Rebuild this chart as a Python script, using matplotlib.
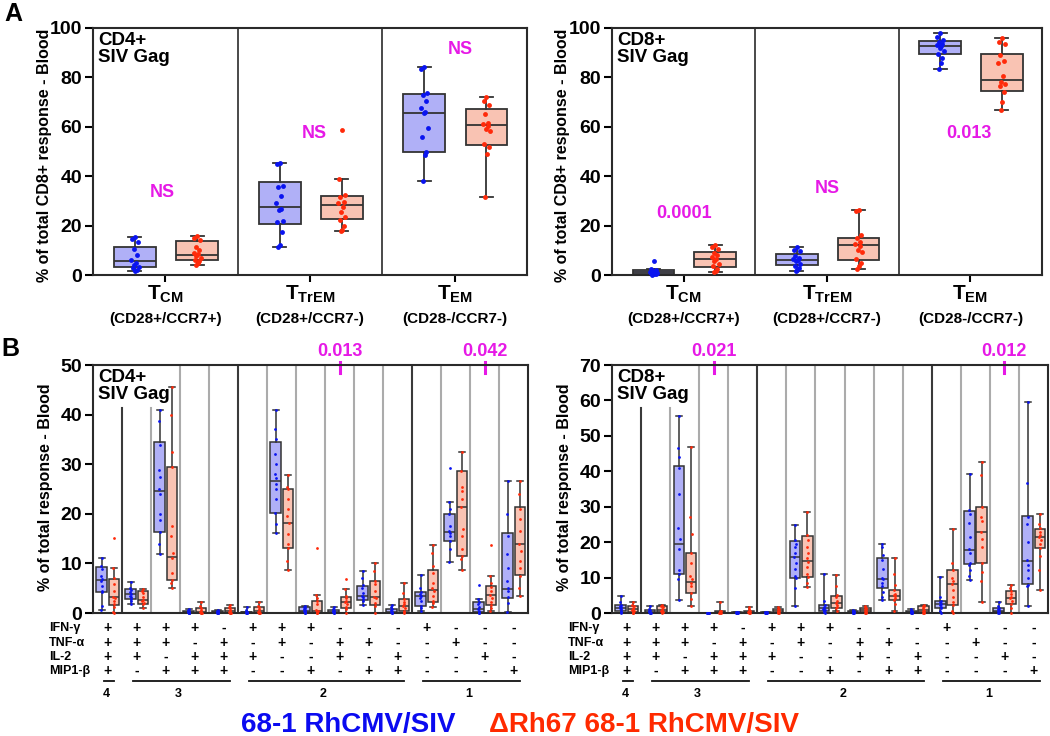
import matplotlib
matplotlib.use('Agg')
import matplotlib.pyplot as plt
from matplotlib.transforms import blended_transform_factory as btf

plt.rcParams['font.family'] = ['Liberation Sans', 'DejaVu Sans']
plt.rcParams['font.weight'] = 'bold'
plt.rcParams['mathtext.fontset'] = 'custom'
plt.rcParams['mathtext.bf'] = 'Liberation Sans:bold'
plt.rcParams['mathtext.rm'] = 'Liberation Sans:bold'
plt.rcParams['mathtext.it'] = 'Liberation Sans:bold'

# ---------------- DATA ----------------
top_subsets = ['CM', 'TrEM', 'EM']
top_phenotypes = ['(CD28+/CCR7+)', '(CD28+/CCR7-)', '(CD28-/CCR7-)']
series_names = ['68-1 RhCMV/SIV', '\u0394Rh67 68-1 RhCMV/SIV']

# box stats: [whisker low, q1, median, q3, whisker high]
cd4_top_blue_stats = [[1.5, 3.2, 5.5, 11.2, 15.2], [11.3, 20.7, 27.7, 37.7, 45.5], [38.1, 49.7, 65.4, 73.1, 84.4]]
cd4_top_red_stats = [[4.2, 5.9, 8.1, 13.9, 15.6], [17.9, 22.6, 28.3, 31.8, 39.0], [31.5, 52.8, 60.7, 67.2, 72.1]]
cd4_top_blue_pts = [[15.2, 14.5, 13.2, 10.5, 8.1, 6.0, 4.8, 4.2, 3.3, 2.8, 2.2, 1.5],
                    [45.5, 44.8, 35.9, 35.5, 31.8, 29.0, 26.8, 26.5, 22.0, 21.5, 17.5, 12.0, 11.3],
                    [84.4, 83.5, 73.6, 73.0, 70.5, 67.5, 65.8, 65.4, 59.7, 55.8, 49.7, 48.5, 38.1]]
cd4_top_red_pts = [[15.6, 14.8, 14.2, 11.4, 10.2, 9.0, 8.5, 7.5, 7.0, 6.2, 5.6, 5.0, 4.2],
                   [58.7, 39.0, 32.5, 31.5, 29.6, 29.0, 27.5, 25.4, 23.5, 22.2, 20.0, 18.4, 17.9],
                   [72.1, 70.5, 69.0, 65.0, 61.5, 61.0, 60.5, 59.0, 58.5, 53.0, 52.0, 49.0, 31.5]]
cd4_top_pvals = ['NS', 'NS', 'NS']

cd8_top_blue_stats = [[0.0, 0.5, 1.2, 1.9, 2.4], [1.5, 3.9, 6.2, 8.6, 11.2], [83.3, 89.3, 92.6, 94.7, 97.8]]
cd8_top_red_stats = [[1.1, 3.1, 6.6, 9.4, 12.1], [2.4, 5.9, 12.0, 15.0, 26.3], [66.8, 74.5, 78.9, 89.6, 95.8]]
cd8_top_blue_pts = [[5.5, 2.4, 2.0, 1.8, 1.5, 1.3, 1.2, 1.0, 0.8, 0.7, 0.5, 0.3, 0.1],
                    [11.2, 10.3, 9.6, 7.8, 6.8, 6.3, 6.0, 5.5, 4.6, 3.8, 2.9, 2.2, 1.5],
                    [97.8, 96.3, 95.0, 94.2, 93.5, 93.0, 92.6, 92.0, 90.6, 89.6, 87.8, 85.8, 83.3]]
cd8_top_red_pts = [[12.1, 11.2, 10.5, 9.0, 8.0, 7.2, 6.5, 5.5, 4.5, 3.5, 2.5, 1.6, 1.1],
                   [26.3, 26.0, 16.2, 15.0, 13.2, 12.5, 11.8, 10.2, 9.2, 6.5, 5.0, 3.5, 2.5],
                   [95.8, 94.2, 93.5, 89.2, 86.5, 85.8, 80.5, 78.3, 77.2, 76.5, 74.0, 70.0, 66.8]]
cd8_top_pvals = ['0.0001', 'NS', '0.013']

cytokines = ['IFN-\u03b3', 'TNF-\u03b1', 'IL-2', 'MIP1-\u03b2']
combos = ['++++', '+++-', '++-+', '+-++', '-+++', '+-+-', '++--', '+--+',
          '-++-', '-+-+', '--++', '+---', '-+--', '--+-', '---+']
degree_labels = ['4', '3', '2', '1']
degree_spans = [(0, 1), (1, 5), (5, 11), (11, 15)]

cd4_bot_blue_stats = [[0.7, 4.2, 6.6, 9.3, 11.1], [1.9, 2.9, 3.9, 4.8, 6.2], [11.8, 16.3, 24.6, 34.5, 40.9],
                      [0, 0.05, 0.2, 0.4, 0.9], [0, 0.05, 0.2, 0.4, 0.7], [0, 0.05, 0.15, 0.3, 1.2],
                      [16.2, 20.1, 26.6, 34.4, 40.9], [0, 0.2, 0.5, 1.3, 1.5], [0, 0.1, 0.3, 0.7, 1.3],
                      [1.7, 2.7, 3.4, 5.4, 8.4], [0, 0.05, 0.3, 0.9, 1.7], [0.5, 1.5, 3.4, 4.2, 7.6],
                      [10.3, 14.5, 16.4, 19.9, 22.4], [0, 0.2, 0.9, 2.2, 2.9], [0.3, 3.1, 4.9, 16.2, 26.6]]
cd4_bot_red_stats = [[0, 1.7, 3.2, 6.9, 9.1], [1.0, 1.9, 2.6, 4.4, 4.9], [5.0, 6.7, 11.3, 29.5, 45.6],
                     [0, 0, 0.2, 1.1, 2.2], [0, 0, 0.5, 1.0, 1.7], [0, 0, 0.4, 1.3, 2.2],
                     [8.7, 13.2, 18.2, 24.9, 27.8], [0, 0, 0.5, 2.4, 3.7], [0, 1.1, 2.2, 3.2, 4.9],
                     [0, 1.7, 3.2, 6.5, 10.0], [0, 0.5, 1.5, 2.9, 6.1], [1.3, 2.2, 4.6, 8.7, 13.8],
                     [8.6, 11.5, 21.3, 28.6, 32.4], [0.5, 1.7, 3.6, 5.4, 7.4], [3.4, 7.7, 13.9, 21.3, 26.6]]
cd4_bot_blue_pts = [[11.1, 9.5, 8.8, 7.5, 6.8, 6.4, 5.5, 4.5, 4.2, 1.5, 0.7],
                    [6.2, 5.0, 4.6, 4.2, 3.9, 3.5, 3.2, 2.8, 2.5, 1.9],
                    [40.9, 38.7, 33.8, 28.9, 27.5, 25.0, 24.0, 20.0, 18.8, 16.3, 14.0, 11.8],
                    [0.9, 0.6, 0.4, 0.3, 0.2, 0.2, 0.1, 0.1, 0.05, 0],
                    [0.7, 0.5, 0.4, 0.3, 0.2, 0.1, 0.1, 0.05, 0],
                    [1.2, 0.6, 0.3, 0.2, 0.15, 0.1, 0.05, 0],
                    [40.9, 37.0, 35.0, 32.1, 30.0, 28.0, 27.2, 26.0, 25.0, 23.0, 20.1, 18.0, 16.2],
                    [1.5, 1.3, 1.1, 0.9, 0.6, 0.5, 0.4, 0.2, 0.1, 0],
                    [1.3, 0.9, 0.7, 0.5, 0.3, 0.3, 0.2, 0.1, 0],
                    [8.4, 7.0, 5.6, 5.0, 4.0, 3.5, 3.2, 2.8, 2.4, 1.7],
                    [1.7, 1.2, 0.9, 0.6, 0.3, 0.2, 0.1, 0],
                    [7.6, 5.0, 4.2, 3.8, 3.4, 3.0, 2.5, 1.5, 1.0, 0.5],
                    [29.3, 22.4, 21.0, 19.9, 17.5, 16.5, 16.2, 15.5, 14.5, 13.0, 10.3],
                    [5.6, 2.9, 2.2, 1.8, 1.2, 0.9, 0.5, 0.3, 0.1, 0],
                    [26.6, 20.0, 15.5, 11.8, 9.0, 6.5, 5.0, 4.5, 3.2, 2.0, 0.3]]
cd4_bot_red_pts = [[15.1, 9.1, 7.0, 5.8, 4.5, 3.2, 3.0, 2.5, 1.8, 1.2, 0.3, 0],
                   [4.9, 4.5, 4.0, 3.2, 2.6, 2.4, 2.0, 1.8, 1.0],
                   [45.6, 40.0, 32.4, 29.5, 17.5, 15.5, 12.0, 11.0, 8.0, 6.7, 6.0, 5.0],
                   [2.2, 1.5, 1.0, 0.7, 0.3, 0.2, 0.1, 0, 0],
                   [1.7, 1.2, 1.0, 0.7, 0.5, 0.3, 0.1, 0, 0],
                   [2.2, 1.5, 1.2, 0.8, 0.4, 0.3, 0.1, 0, 0],
                   [27.8, 25.5, 25.0, 23.0, 21.0, 19.5, 18.2, 16.0, 14.0, 13.2, 10.5, 8.7],
                   [13.2, 3.7, 3.0, 2.4, 1.8, 0.7, 0.5, 0.3, 0, 0],
                   [6.9, 4.9, 3.5, 3.0, 2.5, 2.2, 1.8, 1.2, 0.8, 0],
                   [10.0, 8.5, 6.5, 5.8, 4.5, 3.2, 3.0, 2.0, 1.5, 0],
                   [6.1, 4.0, 2.9, 2.2, 1.8, 1.5, 1.0, 0.5, 0.2, 0],
                   [13.8, 12.0, 9.5, 8.0, 6.0, 5.0, 4.5, 3.5, 2.5, 2.0, 1.3],
                   [32.4, 28.6, 25.4, 24.5, 23.0, 21.3, 17.0, 15.5, 13.0, 11.5, 10.8, 8.6],
                   [13.7, 7.4, 6.0, 5.2, 4.5, 3.6, 3.0, 2.2, 1.6, 1.0, 0.5],
                   [26.6, 24.0, 21.0, 19.0, 16.5, 14.0, 12.5, 10.5, 9.0, 7.5, 5.0, 3.4]]
cd4_bot_pvals = {8: '0.013', 13: '0.042'}

cd8_bot_blue_stats = [[0, 0.5, 1.4, 2.3, 4.7], [0, 0, 0.3, 0.8, 2.1], [3.6, 11.0, 19.5, 41.5, 55.5],
                      [0, 0, 0, 0.02, 0.1], [0, 0, 0.1, 0.2, 0.3], [0, 0, 0.1, 0.2, 0.4],
                      [2.1, 9.9, 15.7, 20.4, 24.9], [0, 0.7, 1.4, 2.3, 11.0], [0, 0.1, 0.3, 0.5, 0.9],
                      [3.8, 7.0, 9.6, 15.5, 19.5], [0, 0.1, 0.2, 0.5, 1.1], [0, 1.4, 2.6, 3.3, 10.1],
                      [9.2, 13.7, 17.9, 28.9, 39.1], [0, 0.2, 0.7, 1.4, 3.0], [2.1, 8.3, 14.8, 27.4, 59.5]]
cd8_bot_red_stats = [[0, 0.3, 1.1, 1.9, 3.0], [0, 0.2, 0.9, 2.1, 2.3], [1.9, 5.6, 8.7, 16.9, 46.8],
                     [0, 0, 0.2, 0.5, 3.0], [0, 0, 0.4, 0.7, 1.6], [0, 0.1, 0.5, 1.1, 1.6],
                     [7.2, 10.2, 14.8, 21.6, 28.5], [0.7, 1.4, 2.8, 4.7, 10.6], [0, 0.2, 0.9, 1.4, 2.1],
                     [0.7, 3.6, 4.7, 6.6, 15.5], [0, 0.2, 0.9, 1.9, 2.3], [0, 2.2, 8.3, 12.2, 23.7],
                     [3.2, 14.1, 22.9, 29.8, 42.7], [0, 2.6, 4.2, 6.3, 8.0], [6.4, 18.3, 21.4, 23.7, 28.0]]
cd8_bot_blue_pts = [[4.7, 3.0, 2.3, 2.0, 1.6, 1.4, 1.0, 0.7, 0.4, 0.1],
                    [2.1, 1.0, 0.8, 0.5, 0.3, 0.2, 0.1, 0, 0],
                    [55.5, 46.5, 44.0, 41.0, 33.7, 24.0, 21.0, 18.0, 12.0, 11.0, 9.5, 3.6],
                    [0.1, 0.05, 0, 0, 0, 0, 0, 0],
                    [0.3, 0.2, 0.2, 0.1, 0.1, 0.05, 0, 0],
                    [0.4, 0.3, 0.2, 0.1, 0.1, 0, 0, 0],
                    [24.9, 20.5, 19.5, 18.5, 17.0, 15.7, 14.0, 12.5, 10.5, 9.9, 7.0, 2.1],
                    [11.0, 3.5, 2.3, 1.8, 1.4, 1.1, 0.8, 0.5, 0.2, 0],
                    [0.9, 0.6, 0.5, 0.3, 0.2, 0.1, 0, 0],
                    [19.5, 18.5, 16.5, 15.0, 12.5, 10.0, 9.6, 8.5, 7.5, 6.0, 4.5, 3.8],
                    [1.1, 0.7, 0.5, 0.3, 0.2, 0.1, 0, 0],
                    [10.1, 4.5, 3.3, 3.0, 2.6, 2.2, 1.8, 1.4, 0.6, 0],
                    [39.1, 29.0, 28.0, 25.5, 21.5, 18.0, 17.0, 14.0, 13.5, 12.0, 10.5, 9.2],
                    [3.0, 1.9, 1.4, 1.0, 0.8, 0.5, 0.3, 0.1, 0],
                    [59.5, 36.8, 27.0, 25.0, 20.0, 15.0, 13.5, 12.0, 10.0, 8.0, 7.5, 2.1]]
cd8_bot_red_pts = [[3.0, 2.2, 1.9, 1.5, 1.1, 0.9, 0.6, 0.4, 0.1, 0],
                   [2.3, 2.1, 1.7, 1.2, 0.9, 0.6, 0.4, 0.2, 0],
                   [46.8, 27.0, 22.2, 16.9, 14.0, 10.5, 9.5, 8.5, 7.5, 5.6, 4.0, 1.9],
                   [3.0, 0.7, 0.5, 0.3, 0.2, 0.1, 0, 0],
                   [1.6, 1.0, 0.7, 0.5, 0.4, 0.2, 0.1, 0],
                   [1.6, 1.2, 1.0, 0.7, 0.5, 0.3, 0.1, 0],
                   [28.5, 22.0, 20.5, 18.5, 17.0, 15.5, 14.5, 13.0, 11.0, 10.2, 8.5, 7.2],
                   [10.6, 7.5, 5.0, 4.5, 3.5, 2.8, 2.2, 1.6, 1.4, 0.7],
                   [2.1, 1.6, 1.4, 1.1, 0.9, 0.6, 0.3, 0.1, 0],
                   [15.5, 11.0, 8.0, 6.6, 5.5, 5.0, 4.7, 4.2, 3.6, 2.5, 0.7],
                   [2.3, 2.0, 1.9, 1.5, 0.9, 0.6, 0.3, 0.1, 0],
                   [23.7, 14.0, 12.2, 10.0, 9.0, 8.3, 6.5, 4.5, 3.0, 2.2, 0.5, 0],
                   [42.7, 39.0, 30.0, 27.0, 26.0, 22.9, 21.0, 18.5, 14.1, 11.5, 9.0, 3.2],
                   [8.0, 7.0, 6.3, 5.5, 4.5, 4.2, 3.5, 2.6, 1.5, 0],
                   [28.0, 25.0, 24.0, 23.0, 22.0, 21.4, 20.5, 19.5, 18.3, 16.0, 12.0, 6.4]]
cd8_bot_pvals = {3: '0.021', 13: '0.012'}

# ---------------- STYLE ----------------
W, H = 1050, 736
BLUE_FACE = '#B0B0F7'
RED_FACE = '#F9C3B3'
BLUE_DOT = '#0A14F0'
RED_DOT = '#FF2A0A'
EDGE = '#333333'
MAGENTA = '#E619E6'
JIT_TOP = [0.0, -0.02, 0.02, -0.01, 0.012, -0.025, 0.008, -0.005, 0.025, -0.015, 0.015, 0.003, -0.008]
JIT_BOT = [0.0, -0.02, 0.02, -0.01, 0.01, -0.025, 0.025, 0.005, -0.005, 0.015, -0.015, 0.0]

fig = plt.figure(figsize=(W / 100, H / 100), dpi=100)


def fx(px):
    return px / W


def fy(py):
    return 1 - py / H


def add_axes(x0, y0, x1, y1):
    return fig.add_axes([fx(x0), fy(y1), fx(x1) - fx(x0), (y1 - y0) / H])


def stats_dicts(rows):
    return [dict(whislo=r[0], q1=r[1], med=r[2], q3=r[3], whishi=r[4], fliers=[]) for r in rows]


def draw_series(ax, stats, pts, offset, width, capw, face, dot, ms, jit, lw):
    pos = [i + offset for i in range(len(stats))]
    ax.bxp(stats_dicts(stats), positions=pos, widths=width, capwidths=capw, patch_artist=True,
           showfliers=False, manage_ticks=False, zorder=2,
           boxprops=dict(facecolor=face, edgecolor=EDGE, linewidth=lw),
           medianprops=dict(color=EDGE, linewidth=lw),
           whiskerprops=dict(color=EDGE, linewidth=lw),
           capprops=dict(color=EDGE, linewidth=lw))
    for p, vals in zip(pos, pts):
        xs = [p + jit[k % len(jit)] for k in range(len(vals))]
        ax.plot(xs, vals, 'o', color=dot, ms=ms, mec='none', zorder=3, clip_on=False)


def style_spines(ax):
    for s in ax.spines.values():
        s.set_linewidth(1.5)
        s.set_color('#2a2a2a')


def top_panel(ax, title, bstats, rstats, bpts, rpts, pvals, pval_y, ylab_x):
    ax.set_xlim(0, 3)
    ax.set_ylim(0, 100)
    style_spines(ax)
    for x in (1, 2):
        ax.axvline(x, color='#3a3a3a', lw=1.3, zorder=1)
    draw_series(ax, bstats, bpts, 0.29, 0.29, 0.09, BLUE_FACE, BLUE_DOT, 3.5, JIT_TOP, 1.3)
    draw_series(ax, rstats, rpts, 0.72, 0.29, 0.09, RED_FACE, RED_DOT, 3.5, JIT_TOP, 1.3)
    ax.set_yticks(range(0, 101, 20))
    ax.tick_params(axis='y', labelsize=14, width=1.5, length=6, pad=2)
    ax.set_xticks([0.5, 1.5, 2.5])
    ax.set_xticklabels([])
    ax.tick_params(axis='x', width=1.5, length=5)
    ax.text(0.012, 0.985, title, transform=ax.transAxes, ha='left', va='top', fontsize=13.5,
            linespacing=1.05)
    tr = btf(ax.transData, fig.transFigure)
    for i, (sub, ph) in enumerate(zip(top_subsets, top_phenotypes)):
        ax.text(i + 0.5, fy(284), r'$\mathbf{T}_{\mathbf{' + sub + '}}$', transform=tr,
                ha='center', va='top', fontsize=15)
        ax.text(i + 0.5, fy(312), ph, transform=tr, ha='center', va='top', fontsize=11)
    for i, (p, yv) in enumerate(zip(pvals, pval_y)):
        ax.text(i + yv[0], yv[1], p, color=MAGENTA, ha='center', va='center', fontsize=13)
    fig.text(fx(ylab_x), fy(155), '% of total CD8+ response - Blood', rotation=90,
             ha='center', va='center', fontsize=11.5)


def bottom_panel(ax, title, ymax, bstats, rstats, bpts, rpts, pvals, ylab_x, row_x):
    ax.set_xlim(0, 15)
    ax.set_ylim(0, ymax)
    style_spines(ax)
    for x in range(1, 15):
        dark = x in (1, 5, 11)
        top = 0.827 if x in (1, 2) else 1.0
        ax.axvline(x, ymin=0, ymax=top, color='#3a3a3a' if dark else '#ABABAB', lw=1.5, zorder=1)
    draw_series(ax, bstats, bpts, 0.30, 0.36, 0.2, BLUE_FACE, BLUE_DOT, 2.0, JIT_BOT, 1.1)
    draw_series(ax, rstats, rpts, 0.72, 0.36, 0.2, RED_FACE, RED_DOT, 2.0, JIT_BOT, 1.1)
    ax.set_yticks(range(0, ymax + 1, 10))
    ax.tick_params(axis='y', labelsize=14, width=1.5, length=6, pad=2)
    ax.set_xticks([])
    ax.text(0.012, 0.985, title, transform=ax.transAxes, ha='left', va='top', fontsize=13.5,
            linespacing=1.05)
    tr = btf(ax.transData, fig.transFigure)
    for k, lab in pvals.items():
        ax.text(k + 0.5, fy(352), lab, transform=tr, color=MAGENTA, ha='center', va='center',
                fontsize=13)
        ax.plot([k + 0.5, k + 0.5], [fy(362), fy(373)], transform=tr, color=MAGENTA, lw=2.2,
                clip_on=False)
    row_y = [628, 643, 657, 671]
    for r, (cy, yy) in enumerate(zip(cytokines, row_y)):
        fig.text(fx(row_x), fy(yy), cy, ha='left', va='center', fontsize=9)
        for g, c in enumerate(combos):
            ax.text(g + 0.5, fy(yy), '+' if c[r] == '+' else '-', transform=tr, ha='center',
                    va='center', fontsize=10)
    for lab, (a, b) in zip(degree_labels, degree_spans):
        x0 = a + 0.38
        x1 = b - 0.28
        ax.plot([x0, x1], [fy(681), fy(681)], transform=tr, color='#111111', lw=1.3, clip_on=False)
        ax.text((x0 + x1) / 2 - 0.1, fy(694), lab, transform=tr, ha='center', va='center',
                fontsize=9)
    fig.text(fx(ylab_x), fy(487), '% of total response - Blood', rotation=90,
             ha='center', va='center', fontsize=11.5)


ax1 = add_axes(93, 28, 527, 275)
top_panel(ax1, 'CD4+\nSIV Gag', cd4_top_blue_stats, cd4_top_red_stats, cd4_top_blue_pts,
          cd4_top_red_pts, cd4_top_pvals, [(0.48, 33.4), (0.53, 57.3), (0.54, 91.2)], 45)
ax2 = add_axes(612, 28, 1042, 275)
top_panel(ax2, 'CD8+\nSIV Gag', cd8_top_blue_stats, cd8_top_red_stats, cd8_top_blue_pts,
          cd8_top_red_pts, cd8_top_pvals, [(0.5, 24.7), (0.5, 35.2), (0.49, 57.2)], 562)

ax3 = add_axes(93, 365, 528, 613)
bottom_panel(ax3, 'CD4+\nSIV Gag', 50, cd4_bot_blue_stats, cd4_bot_red_stats, cd4_bot_blue_pts,
             cd4_bot_red_pts, cd4_bot_pvals, 46, 49)
ax4 = add_axes(612, 365, 1048, 613)
bottom_panel(ax4, 'CD8+\nSIV Gag', 70, cd8_bot_blue_stats, cd8_bot_red_stats, cd8_bot_blue_pts,
             cd8_bot_red_pts, cd8_bot_pvals, 564, 568)

fig.text(fx(4), fy(14), 'A', fontsize=18, ha='left', va='center')
fig.text(fx(1), fy(349), 'B', fontsize=18, ha='left', va='center')

fig.text(fx(348), fy(732), series_names[0], color='#0A0AF0', fontsize=20, ha='center',
         va='baseline')
fig.text(fx(644), fy(732), series_names[1], color='#FF2A00', fontsize=20, ha='center',
         va='baseline')

fig.savefig('out.png', dpi=100)
